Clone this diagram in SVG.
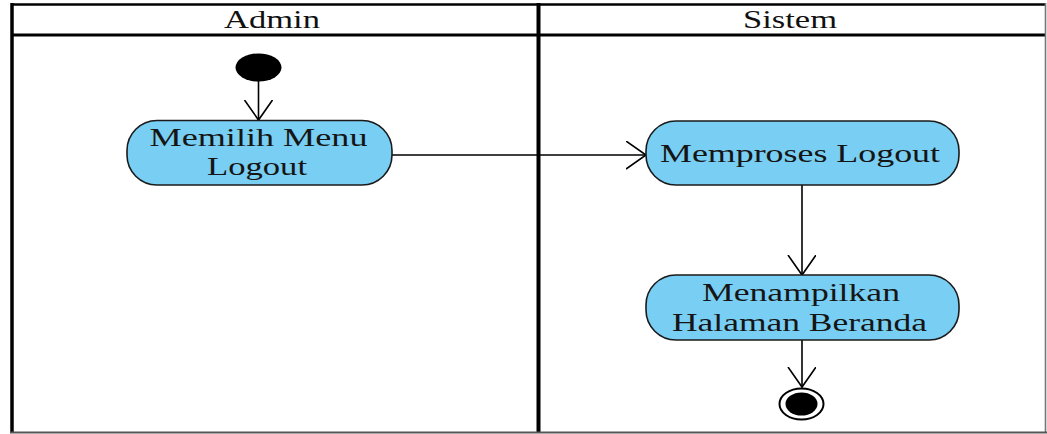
<svg xmlns="http://www.w3.org/2000/svg" width="1047" height="434" viewBox="0 0 1047 434">
<style>
.lane{fill:none;stroke:#000;}
.act{fill:#79CEF3;stroke:#1a1a1a;stroke-width:1.6;}
.txt{font-family:"Liberation Serif","Times New Roman",serif;font-size:26px;fill:#151515;text-anchor:middle;}
.hdr{font-family:"Liberation Serif","Times New Roman",serif;font-size:25px;fill:#111;text-anchor:middle;}
.edge{fill:none;stroke:#000;stroke-width:1.6;}
</style>
<defs>
<marker id="open" markerUnits="userSpaceOnUse" markerWidth="32" markerHeight="32" refX="20" refY="14" orient="auto" viewBox="0 0 32 32">
<path d="M0,0 L20,14 L0,28" fill="none" stroke="#000" stroke-width="1.6"/>
</marker>
</defs>
<rect width="1047" height="434" fill="#fff"/>
<g id="swimlanes">
<line class="lane" x1="12" y1="4.5" x2="1046" y2="4.5" stroke-width="2.5"/>
<line class="lane" x1="12" y1="35" x2="1046" y2="35" stroke-width="3.2"/>
<line class="lane" x1="12" y1="3" x2="12" y2="433" stroke-width="3.5"/>
<line class="lane" x1="538.5" y1="3" x2="538.5" y2="433" stroke-width="4"/>
<line x1="1045.5" y1="3" x2="1045.5" y2="433" stroke="#777" stroke-width="1.6"/>
<line x1="10" y1="432.5" x2="1047" y2="432.5" stroke="#555" stroke-width="2"/>
<text class="hdr" x="272" y="28" textLength="96" lengthAdjust="spacingAndGlyphs">Admin</text>
<text class="hdr" x="790" y="28" textLength="94" lengthAdjust="spacingAndGlyphs">Sistem</text>
</g>
<g id="connectors">
<line class="edge" x1="258.5" y1="81" x2="258.5" y2="120" marker-end="url(#open)"/>
<line class="edge" x1="392" y1="155" x2="646" y2="155" marker-end="url(#open)"/>
<line class="edge" x1="802" y1="185" x2="802" y2="275" marker-end="url(#open)"/>
<line class="edge" x1="802" y1="340" x2="802" y2="387" marker-end="url(#open)"/>
</g>
<g id="start">
<ellipse cx="258.5" cy="67.5" rx="23" ry="14" fill="#000"/>
</g>
<g id="memilih-menu-logout">
<rect class="act" x="127" y="120.5" width="265" height="64.5" rx="30" ry="30"/>
<text class="txt" x="258.5" y="146" textLength="218" lengthAdjust="spacingAndGlyphs">Memilih Menu</text>
<text class="txt" x="257" y="175" textLength="100" lengthAdjust="spacingAndGlyphs">Logout</text>
</g>
<g id="memproses-logout">
<rect class="act" x="646" y="121" width="313" height="64" rx="30" ry="30"/>
<text class="txt" x="800" y="162" textLength="280" lengthAdjust="spacingAndGlyphs">Memproses Logout</text>
</g>
<g id="menampilkan-halaman-beranda">
<rect class="act" x="646" y="275" width="313" height="65" rx="30" ry="30"/>
<text class="txt" x="801" y="301" textLength="198" lengthAdjust="spacingAndGlyphs">Menampilkan</text>
<text class="txt" x="799.5" y="331" textLength="255" lengthAdjust="spacingAndGlyphs">Halaman Beranda</text>
</g>
<g id="end">
<ellipse cx="801.5" cy="404" rx="22" ry="15.5" fill="#fff" stroke="#000" stroke-width="2"/>
<ellipse cx="801.5" cy="404" rx="16" ry="11.5" fill="#000"/>
</g>
</svg>
